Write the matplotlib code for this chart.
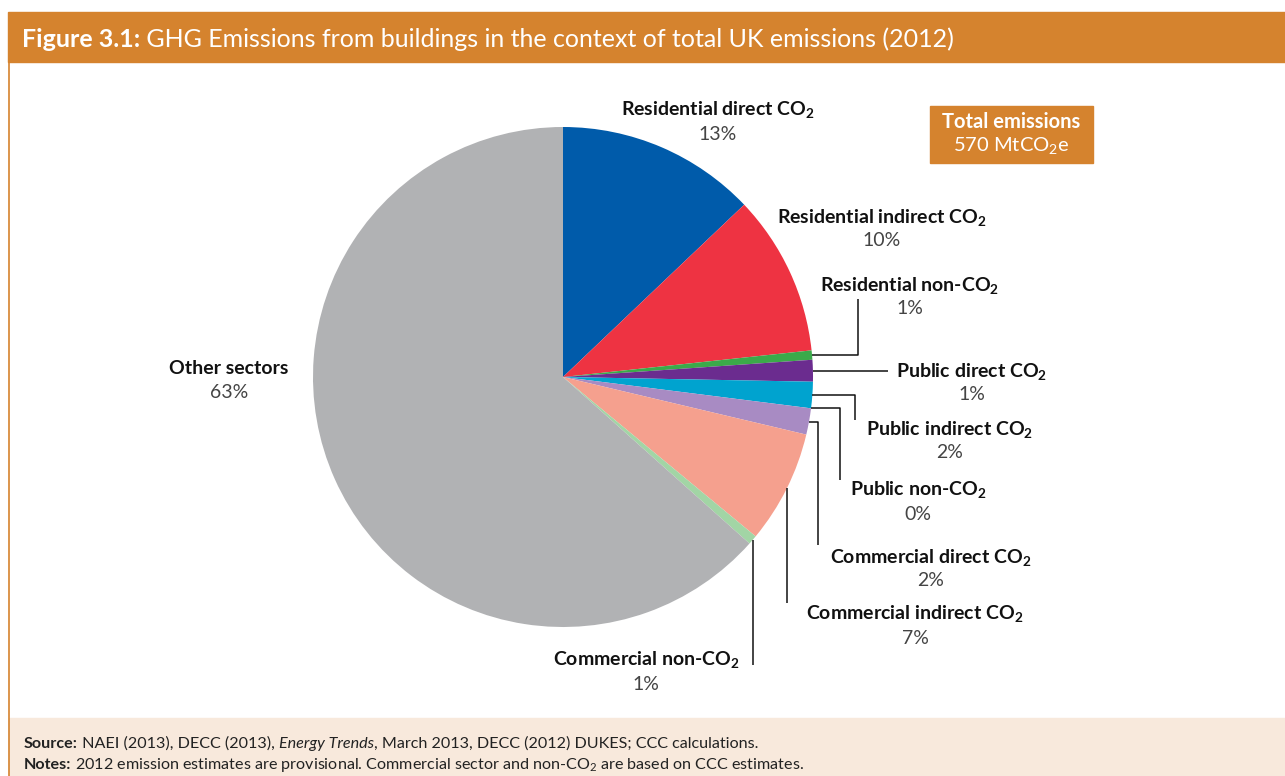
import matplotlib
matplotlib.use('Agg')
import matplotlib.pyplot as plt
import numpy as np

plt.rcParams['font.family'] = ['Lato', 'DejaVu Sans']
plt.rcParams['mathtext.fontset'] = 'custom'
plt.rcParams['mathtext.rm'] = 'Lato'
plt.rcParams['mathtext.bf'] = 'Lato:bold'
plt.rcParams['mathtext.it'] = 'Lato:italic'

ORANGE = '#D5832E'
BEIGE = '#F8E9DC'

# share of total UK GHG emissions, 2012 (%), clockwise from 12 o'clock
SECTORS = [
    'Residential direct CO$_\\mathbf{2}$',
    'Residential indirect CO$_\\mathbf{2}$',
    'Residential non-CO$_\\mathbf{2}$',
    'Public direct CO$_\\mathbf{2}$',
    'Public indirect CO$_\\mathbf{2}$',
    'Public non-CO$_\\mathbf{2}$',
    'Commercial direct CO$_\\mathbf{2}$',
    'Commercial indirect CO$_\\mathbf{2}$',
    'Commercial non-CO$_\\mathbf{2}$',
    'Other sectors',
]
SHARES = [12.9, 10.4, 0.6, 1.4, 1.7, 0.0, 1.7, 7.3, 0.6, 63.4]
COLOURS = ['#005BAA', '#EE3342', '#3BAA4A', '#6B2C8F', '#00A3CF',
           '#8E8E8E', '#A88BC3', '#F5A08E', '#A2D5A5', '#B1B2B4']
TOTAL_MT = 570

# label centre (x, y) and leader line (elbow x, end y) in pixel space
LABEL_POS = [(718, 110), (882, 217), (910, 285), (972, 371), (950, 429),
             (918, 490), (931, 557), (915, 614), (646, 660), (229, 369)]
LEADERS = {2: (858, 299), 3: (888, None), 4: (855, 420), 5: (840, 480),
           6: (818, 545), 7: (None, 603), 8: (None, 665)}

W, H = 1285, 776
CX, CY, R = 563, 377, 250
LABEL_SIZE = 14

fig = plt.figure(figsize=(W / 100, H / 100), dpi=100)
ax = fig.add_axes([0, 0, 1, 1])

# y runs downwards, so counterclock=True with startangle=-90 draws clockwise from the top
ax.pie(SHARES, colors=COLOURS, startangle=-90, counterclock=True,
       center=(CX, CY), radius=R, wedgeprops=dict(linewidth=0))
ax.set_xlim(0, W)
ax.set_ylim(H, 0)
ax.set_aspect('auto')
ax.axis('off')

# frame, title bar and footer band
ax.add_patch(plt.Rectangle((8, 12), W - 8, 50, color=ORANGE, zorder=0))
ax.add_patch(plt.Rectangle((9, 718), W - 9, 58, color=BEIGE, zorder=0))
ax.plot([8.5, 8.5], [62, H], color=ORANGE, lw=1.2, zorder=1)

renderer = fig.canvas.get_renderer()


def run_text(x, y, parts, size, colour):
    # draw consecutive text pieces with different weight/style on one baseline
    for txt, weight, style in parts:
        t = ax.text(x, y, txt, fontsize=size, color=colour, weight=weight,
                    style=style, va='baseline', ha='left')
        x += t.get_window_extent(renderer).width


run_text(22, 47, [('Figure 3.1:', 'bold', 'normal'),
                  (' GHG Emissions from buildings in the context of total UK emissions (2012)',
                   'normal', 'normal')], 18, 'white')

run_text(24, 748, [('Source:', 'bold', 'normal'),
                   (' NAEI (2013), DECC (2013), ', 'normal', 'normal'),
                   ('Energy Trends', 'normal', 'italic'),
                   (', March 2013, DECC (2012) DUKES; CCC calculations.', 'normal', 'normal')],
         11.6, '#222222')
run_text(24, 769, [('Notes:', 'bold', 'normal'),
                   (' 2012 emission estimates are provisional. Commercial sector and non-CO$_2$ are based on CCC estimates.',
                    'normal', 'normal')], 11.6, '#222222')

# total emissions box
ax.add_patch(plt.Rectangle((930, 106), 163, 57, color=ORANGE, zorder=2))
ax.text(1011, 122, 'Total emissions', fontsize=14.5, weight='bold', color='white',
        ha='center', va='center', zorder=3)
ax.text(1011, 146, '%d MtCO$_2$e' % TOTAL_MT, fontsize=14.5, color='white',
        ha='center', va='center', zorder=3)

# labels and leader lines
cum = np.cumsum([0] + SHARES)
total = cum[-1]
for i, (name, share) in enumerate(zip(SECTORS, SHARES)):
    lx, ly = LABEL_POS[i]
    ax.text(lx, ly, name, fontsize=LABEL_SIZE, weight='bold', color='#111111',
            ha='center', va='center')
    ax.text(lx, ly + 24, '%.0f%%' % share, fontsize=LABEL_SIZE, color='#444444',
            ha='center', va='center')
    if i in LEADERS:
        mid = np.deg2rad(-90 + 360 * (cum[i] + share / 2) / total)
        ax0, ay0 = CX + R * np.cos(mid), CY + R * np.sin(mid)
        ex, ey = LEADERS[i]
        xs, ys = [ax0], [ay0]
        if ex is not None:
            xs.append(ex)
            ys.append(ay0)
        if ey is not None:
            xs.append(xs[-1])
            ys.append(ey)
        ax.plot(xs, ys, color='#111111', lw=1.1, solid_capstyle='butt', zorder=3)

fig.savefig('out.png', dpi=100)
